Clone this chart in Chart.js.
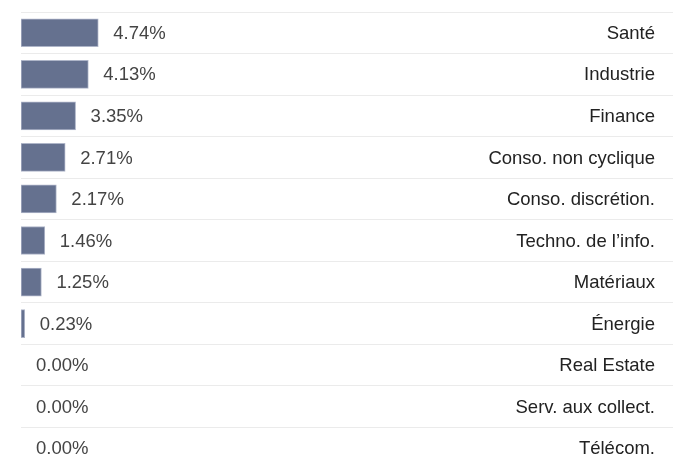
<!DOCTYPE html>
<html lang="fr">
<head>
<meta charset="UTF-8">
<title>Répartition sectorielle</title>
<script src="https://cdn.jsdelivr.net/npm/chart.js"></script>
<style>
    html, body {
        margin: 0;
        padding: 0;
        background: #fff;
        overflow: hidden;
    }
    .wrap {
        width: 680px;
        height: 470px;
    }
</style>
</head>
<body>
<div class="wrap">
    <canvas id="sectorChart" width="680" height="470"></canvas>
</div>
<script>
    const sectors = ['Santé', 'Industrie', 'Finance', 'Conso. non cyclique', 'Conso. discrétion.',
        'Techno. de l\u2019info.', 'Matériaux', 'Énergie', 'Real Estate', 'Serv. aux collect.', 'Télécom.'];
    const weights = [4.74, 4.13, 3.35, 2.71, 2.17, 1.46, 1.25, 0.23, 0, 0, 0];

    const fontFamily = "'Liberation Sans', Arial, sans-serif";
    const fontSize = 18.5;

    // value after each bar + sector name right-aligned, both placed with the chart's scales
    const rowLabels = {
        id: 'rowLabels',
        afterDatasetsDraw(chart) {
            const ctx = chart.ctx;
            const meta = chart.getDatasetMeta(0);
            const yScale = chart.scales.y;
            const right = chart.chartArea.right - 18;
            ctx.save();
            ctx.font = fontSize + 'px ' + fontFamily;
            ctx.textBaseline = 'middle';
            meta.data.forEach((bar, i) => {
                ctx.fillStyle = '#444';
                ctx.textAlign = 'left';
                ctx.fillText(weights[i].toFixed(2) + '%', bar.x + 15, bar.y + 1);
            });
            sectors.forEach((name, i) => {
                ctx.fillStyle = '#222';
                ctx.textAlign = 'right';
                ctx.fillText(name, right, yScale.getPixelForTick(i) + 1);
            });
            ctx.restore();
        }
    };

    new Chart(document.getElementById('sectorChart'), {
        type: 'bar',
        data: {
            labels: sectors,
            datasets: [{
                data: weights,
                backgroundColor: '#65718f',
                borderColor: '#aeb5c8',
                borderWidth: 1,
                barThickness: 28,
                borderSkipped: false
            }]
        },
        options: {
            indexAxis: 'y',
            responsive: false,
            animation: false,
            layout: {
                padding: { left: 21, right: 7, top: 12, bottom: 1 }
            },
            plugins: {
                legend: { display: false },
                tooltip: { enabled: false }
            },
            scales: {
                x: {
                    display: false,
                    min: 0,
                    max: 40
                },
                y: {
                    border: { display: false },
                    grid: {
                        color: '#ebebeb',
                        lineWidth: 1,
                        drawTicks: false
                    },
                    ticks: { display: false }
                }
            }
        },
        plugins: [rowLabels]
    });
</script>
</body>
</html>
